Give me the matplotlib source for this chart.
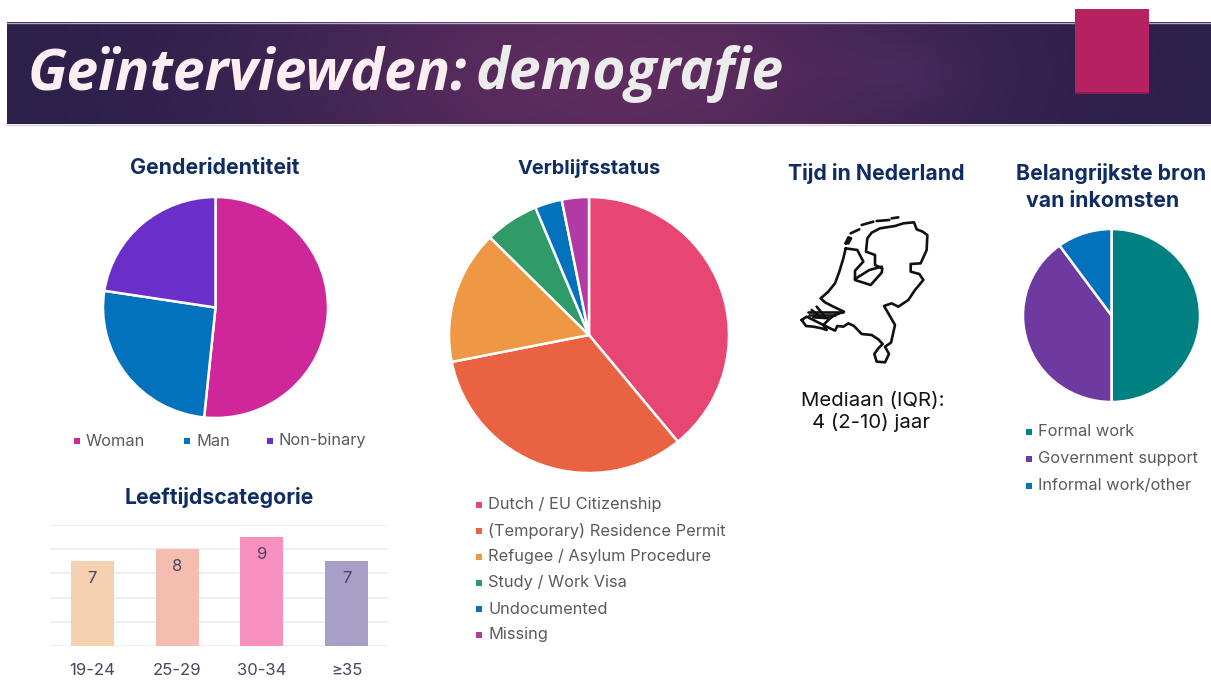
import matplotlib
matplotlib.use("Agg")
import matplotlib.pyplot as plt
import numpy as np
from matplotlib.patches import Rectangle

W = 1211
H = 680

plt.rcParams['font.family'] = ['Inter', 'DejaVu Sans']

# gegevens
gender_labels = ["Woman", "Man", "Non-binary"]
gender_values = [16, 8, 7]
gender_colors = ["#cf2699", "#0272bd", "#6a2fc9"]

status_labels = ["Dutch / EU Citizenship", "(Temporary) Residence Permit", "Refugee / Asylum Procedure",
                 "Study / Work Visa", "Undocumented", "Missing"]
status_values = [12.5, 10.5, 5, 2, 1, 1]
status_colors = ["#e84672", "#e96242", "#ee9745", "#2f9b68", "#0272bd", "#b13aa3"]

income_labels = ["Formal work", "Government support", "Informal work/other"]
income_values = [15, 12, 3]
income_colors = ["#008080", "#6f3a9f", "#0272bd"]

age_labels = ["19-24", "25-29", "30-34", "≥35"]
age_values = [7, 8, 9, 7]
age_colors = ["#f6d1b1", "#f4bdb0", "#f78fbf", "#a89fc6"]

# omtrek van Nederland (pictogram), punten op een raster van 1/3 pixel
nl_main = [(197, 145), (190, 175), (178, 215), (165, 250), (145, 275), (122, 295), (135, 307), (160, 320),
           (192, 335), (165, 345), (150, 355), (130, 375), (165, 392), (172, 378), (190, 380), (205, 370),
           (222, 378), (245, 402), (275, 405), (295, 418), (308, 432), (295, 445), (283, 462), (290, 485),
           (315, 487), (327, 462), (315, 440), (333, 428), (345, 375), (325, 340), (312, 318), (335, 310),
           (355, 320), (385, 300), (395, 285), (405, 270), (430, 240), (418, 222), (392, 215), (392, 192),
           (422, 190), (440, 150), (442, 105), (428, 95), (410, 88), (402, 67), (370, 70), (345, 78),
           (300, 85), (275, 98), (262, 115), (258, 155), (285, 165), (285, 195), (307, 205), (305, 218),
           (272, 255), (225, 240), (225, 212), (250, 185), (232, 150), (197, 145)]
nl_flevo = [(225, 237), (268, 210), (305, 200)]
nl_islands = [[(197, 130), (205, 112), (213, 115), (205, 130), (197, 130)],
              [(212, 100), (238, 88)],
              [(245, 75), (280, 65)],
              [(290, 63), (328, 60)],
              [(335, 55), (355, 52)]]
nl_zeeland = [[(85, 335), (190, 335)], [(88, 345), (165, 345)], [(100, 352), (150, 355)],
              [(110, 320), (135, 350)], [(95, 330), (120, 350)],
              [(65, 360), (78, 378), (100, 380), (125, 385), (140, 390), (130, 375), (100, 360), (80, 350),
               (65, 360)]]


def axes_px(x0, y0, x1, y1, **kw):
    return fig.add_axes([x0 / W, 1 - y1 / H, (x1 - x0) / W, (y1 - y0) / H], **kw)


def draw_pie(cx, cy, rx, ry, values, colors):
    ax = axes_px(cx - rx, cy - ry, cx + rx, cy + ry)
    ax.pie(values, colors=colors, startangle=90, counterclock=False, radius=1,
           wedgeprops={"edgecolor": "white", "linewidth": 1.8, "clip_on": False})
    ax.set_aspect("auto")
    ax.set_xlim(-1, 1)
    ax.set_ylim(-1, 1)


def legend_row(x, y, label, color, size=11.8):
    bg.add_patch(Rectangle((x - 3, y - 3), 6, 6, color=color, lw=0))
    bg.text(x + 9, y, label, fontsize=size, color="#5a5a5a", va="center", ha="left")


fig = plt.figure(figsize=(W / 100, H / 100), dpi=100, facecolor="white")

# achtergrond in pixels
bg = axes_px(0, 0, W, H)
bg.set_xlim(0, W)
bg.set_ylim(H, 0)
bg.axis("off")

# banner met verloop
xs = np.linspace(0, 1, 600)
ys = np.linspace(-1, 1, 60)
gx, gy = np.meshgrid(xs, ys)
t = np.exp(-((gx - 0.5) / 0.27) ** 2) * (1 - 0.12 * np.abs(gy))
blob = 0.28 * np.exp(-((gx - 0.745) / 0.05) ** 2 - (gy / 0.7) ** 2)
left = np.array([42, 32, 74]) / 255
right = np.array([96, 45, 96]) / 255
blob_c = np.array([70, 45, 105]) / 255
img = left + (right - left) * t[..., None] + (blob_c - left) * blob[..., None]
bg.imshow(img, extent=(7, W, 124, 22), aspect="auto", zorder=1)
bg.set_xlim(0, W)
bg.set_ylim(H, 0)
bg.plot([7, W], [22.5, 22.5], color="#b9a9c4", lw=1, zorder=2)
bg.plot([7, W], [124.5, 124.5], color="#d5d2dc", lw=1, zorder=2)

bg.add_patch(Rectangle((1075, 92), 74, 2, color="#8c1c50", lw=0, zorder=3))
bg.add_patch(Rectangle((1075, 9), 74, 83, color="#b52161", lw=0, zorder=3))

bg.text(28, 74, "Geïnterviewden:", fontsize=41, fontweight="bold", style="italic", color="#fdeef2",
        family=["Open Sans", "DejaVu Sans"], va="center", ha="left", zorder=4)
bg.text(476, 74, "demografie", fontsize=41, fontweight="bold", style="italic", color="#ececec",
        family=["Open Sans", "DejaVu Sans"], va="center", ha="left", zorder=4)

# titels
title_color = "#0f2d63"
title_size = 15.3
bg.text(215, 168, "Genderidentiteit", fontsize=title_size, fontweight="bold", color=title_color, ha="center", va="center")
bg.text(589, 168, "Verblijfsstatus", fontsize=14.3, fontweight="bold", color=title_color, ha="center", va="center")
bg.text(876, 173, "Tijd in Nederland", fontsize=title_size, fontweight="bold", color=title_color, ha="center", va="center")
bg.text(1111, 174, "Belangrijkste bron", fontsize=title_size, fontweight="bold", color=title_color, ha="center", va="center")
bg.text(1103, 201, "van inkomsten", fontsize=title_size, fontweight="bold", color=title_color, ha="center", va="center")
bg.text(219, 498, "Leeftijdscategorie", fontsize=title_size, fontweight="bold", color=title_color, ha="center", va="center")

# taartdiagrammen
draw_pie(215.5, 307.5, 112.5, 110.5, gender_values, gender_colors)
draw_pie(589, 335, 140, 138, status_values, status_colors)
draw_pie(1111.5, 315.5, 88.5, 86.5, income_values, income_colors)

# legenda's
for x, lab, col in zip([77, 187, 270], gender_labels, gender_colors):
    legend_row(x, 441, lab, col)
for y, lab, col in zip([505, 531, 557, 583, 609, 635], status_labels, status_colors):
    legend_row(479, y, lab, col)
for y, lab, col in zip([432, 459, 486], income_labels, income_colors):
    legend_row(1029, y, lab, col)

# kaart van Nederland
for line in [nl_main, nl_flevo] + nl_islands + nl_zeeland:
    pts = np.array(line) / 3
    bg.plot(780 + pts[:, 0], 200 + pts[:, 1], color="#111111", lw=1.9, solid_joinstyle="round", solid_capstyle="round")

bg.text(873, 401, "Mediaan (IQR):", fontsize=14.7, color="#111111", ha="center", va="center")
bg.text(871, 422, "4 (2-10) jaar", fontsize=14.7, color="#111111", ha="center", va="center")

# staafdiagram leeftijd
ax = axes_px(50, 525, 389, 646)
ax.patch.set_alpha(0)
pos = np.arange(len(age_labels))
ax.bar(pos, age_values, width=0.51, color=age_colors, zorder=3)
ax.set_xlim(-0.5, 3.5)
ax.set_ylim(0, 10)
ax.set_yticks(range(0, 11, 2))
ax.set_yticklabels([])
ax.set_xticks(pos)
ax.set_xticklabels(age_labels, fontsize=12, color="#4a4560")
ax.tick_params(length=0, pad=12)
ax.grid(axis="y", color="#eeeef5", lw=1.5, zorder=0)
for s in ax.spines.values():
    s.set_visible(False)
for p, v in zip(pos, age_values):
    ax.annotate(str(v), (p, v), xytext=(0, -7), textcoords="offset points", ha="center", va="top",
                fontsize=12, color="#4a4560", zorder=4)

fig.savefig("out.png", dpi=100)
